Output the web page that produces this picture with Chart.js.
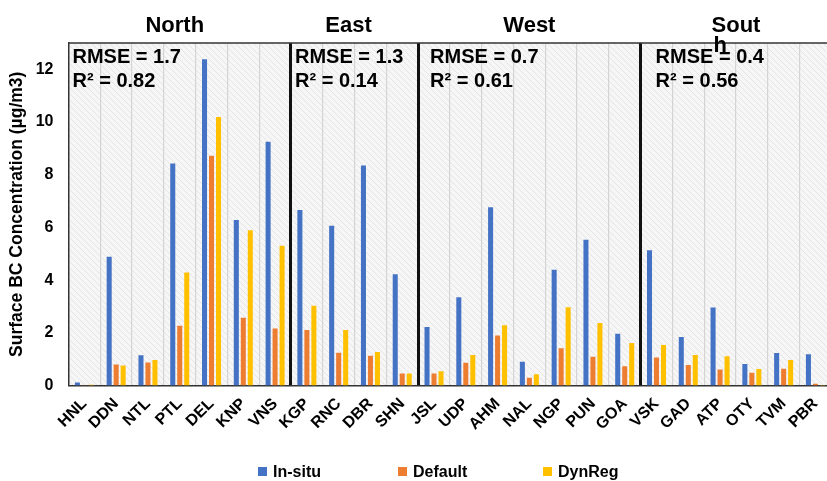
<!DOCTYPE html>
<html>
<head>
<meta charset="utf-8">
<script src="https://cdn.jsdelivr.net/npm/chart.js@4.4.0/dist/chart.umd.min.js"></script>
<style>
  body { margin: 0; background: #fff; overflow: hidden; }
  #wrap { position: relative; width: 827px; height: 481px; overflow: hidden; }
  #legend { position: absolute; left: 0; top: 463px; font: bold 16px "Liberation Sans", Arial, sans-serif; color: #000; }
  #legend .item { position: absolute; white-space: nowrap; line-height: 18px; }
  #legend .box { display: inline-block; width: 9px; height: 9px; margin-right: 6px; vertical-align: 1px; }
</style>
</head>
<body>
<div id="wrap">
  <canvas id="bcChart" width="838" height="481"></canvas>
  <div id="legend"></div>
</div>
<script>
// stations, grouped by region
const stations = ["HNL", "DDN", "NTL", "PTL", "DEL", "KNP", "VNS",
  "KGP", "RNC", "DBR", "SHN",
  "JSL", "UDP", "AHM", "NAL", "NGP", "PUN", "GOA",
  "VSK", "GAD", "ATP", "OTY", "TVM", "PBR"];
const regions = ["North", "East", "West", "South"];
const regionSizes = [7, 4, 7, 6];
const rmse = ["1.7", "1.3", "0.7", "0.4"];
const r2 = ["0.82", "0.14", "0.61", "0.56"];

const inSitu = [0.11, 4.89, 1.15, 8.43, 12.38, 6.28, 9.25,
  6.66, 6.06, 8.35, 4.22,
  2.22, 3.35, 6.77, 0.9, 4.39, 5.53, 1.96,
  5.13, 1.84, 2.96, 0.82, 1.23, 1.19];
const defaultRun = [0.01, 0.8, 0.87, 2.27, 8.72, 2.57, 2.16,
  2.11, 1.24, 1.13, 0.46,
  0.46, 0.86, 1.9, 0.29, 1.41, 1.09, 0.73,
  1.06, 0.78, 0.61, 0.48, 0.64, 0.07];
const dynReg = [0.03, 0.76, 0.97, 4.29, 10.19, 5.89, 5.3,
  3.03, 2.11, 1.27, 0.46,
  0.54, 1.16, 2.29, 0.43, 2.97, 2.37, 1.61,
  1.54, 1.16, 1.11, 0.63, 0.97, 0.02];

const seriesNames = ["In-situ", "Default", "DynReg"];
const seriesColors = ["#4472C4", "#ED7D31", "#FFC000"];

const FONT = "'Liberation Sans', Arial, sans-serif";

// index of grid lines that separate the regions
const boundaries = [];
regionSizes.reduce((acc, n) => { acc += n; boundaries.push(acc); return acc; }, 0);

// hatched background of the plot area
const tile = document.createElement("canvas");
tile.width = 6; tile.height = 6;
const tctx = tile.getContext("2d");
tctx.fillStyle = "#f6f6f6";
tctx.fillRect(0, 0, 6, 6);
tctx.fillStyle = "#e5e5e5";
for (let i = 0; i < 6; i++) tctx.fillRect(i, i, 1, 1);

const bgPlugin = {
  id: "bg",
  beforeDraw(chart) {
    const { ctx, chartArea: a } = chart;
    ctx.save();
    ctx.fillStyle = ctx.createPattern(tile, "repeat");
    ctx.fillRect(a.left, a.top, a.right - a.left, a.bottom - a.top);
    ctx.restore();
  }
};

const textPlugin = {
  id: "regionText",
  afterDatasetsDraw(chart) {
    const { ctx, chartArea: a } = chart;
    const x = chart.scales.x;
    ctx.save();
    // top frame line
    ctx.strokeStyle = "#333";
    ctx.lineWidth = 1.5;
    ctx.beginPath();
    ctx.moveTo(a.left, a.top);
    ctx.lineTo(a.right, a.top);
    ctx.stroke();

    const titleShift = [-5, -6, 0, 0];
    const statShift = [4, 4, 12, 15];
    const step = x.getPixelForValue(1) - x.getPixelForValue(0);
    let start = 0;
    regions.forEach((name, i) => {
      const end = start + regionSizes[i];
      const left = x.getPixelForValue(start) - step / 2;
      const center = (x.getPixelForValue(start) + x.getPixelForValue(end - 1)) / 2;
      ctx.fillStyle = "#000";
      ctx.font = "bold 22px " + FONT;
      ctx.textBaseline = "alphabetic";
      if (name === "South") {
        // the title box is narrow, so the word wraps
        ctx.textAlign = "center";
        ctx.fillText("Sout", center, 32);
        const w = ctx.measureText("Sout").width;
        ctx.textAlign = "left";
        ctx.fillText("h", center - w / 2 + 2, 52);
      } else {
        ctx.textAlign = "center";
        ctx.fillText(name, center + titleShift[i], 32);
      }
      ctx.font = "bold 20px " + FONT;
      ctx.textAlign = "left";
      ctx.fillText("RMSE = " + rmse[i], left + statShift[i], 63);
      ctx.fillText("R\u00B2 = " + r2[i], left + statShift[i], 87);
      start = end;
    });
    ctx.restore();
  }
};

const ctx = document.getElementById("bcChart").getContext("2d");
const chart = new Chart(ctx, {
  type: "bar",
  data: {
    labels: stations,
    datasets: [inSitu, defaultRun, dynReg].map((d, i) => ({
      label: seriesNames[i],
      data: d,
      backgroundColor: seriesColors[i],
      borderWidth: 0,
      categoryPercentage: 0.66,
      barPercentage: 0.72
    }))
  },
  options: {
    responsive: false,
    animation: false,
    devicePixelRatio: 1,
    layout: { padding: { top: 43, left: 0, right: 0, bottom: 35.5 } },
    plugins: {
      legend: { display: false },
      tooltip: { enabled: false }
    },
    scales: {
      x: {
        offset: true,
        grid: {
          offset: true,
          drawTicks: false,
          color: (c) => boundaries.includes(c.index) && c.index < stations.length ? "#111" : (c.index === 0 ? "rgba(0,0,0,0)" : "#d4d4d4"),
          lineWidth: (c) => boundaries.includes(c.index) && c.index < stations.length ? 3 : 1.2
        },
        border: { display: true, color: "#333", width: 1.5 },
        ticks: {
          autoSkip: false,
          maxRotation: 45,
          minRotation: 45,
          padding: 9,
          color: "#000",
          font: { family: FONT, size: 16, weight: "bold" }
        },
        afterFit(scale) { scale.height = 60; }
      },
      y: {
        min: 0,
        max: 13,
        grid: { display: false, drawTicks: false },
        border: { display: true, color: "#333", width: 1.5 },
        ticks: {
          stepSize: 2,
          includeBounds: false,
          padding: 15,
          color: "#000",
          font: { family: FONT, size: 16, weight: "bold" }
        },
        title: {
          display: true,
          text: "Surface BC Concentration (\u00B5g/m3)",
          color: "#000",
          padding: { top: 7, bottom: 0 },
          font: { family: FONT, size: 17.5, weight: "bold" }
        },
        afterFit(scale) { scale.width = 68.5; }
      }
    }
  },
  plugins: [bgPlugin, textPlugin]
});

// legend below the chart
const legendLeft = [258, 398, 543];
const legend = document.getElementById("legend");
seriesNames.forEach((name, i) => {
  const item = document.createElement("div");
  item.className = "item";
  item.style.left = legendLeft[i] + "px";
  item.innerHTML = '<span class="box" style="background:' + seriesColors[i] + '"></span>' + name;
  legend.appendChild(item);
});
</script>
</body>
</html>
